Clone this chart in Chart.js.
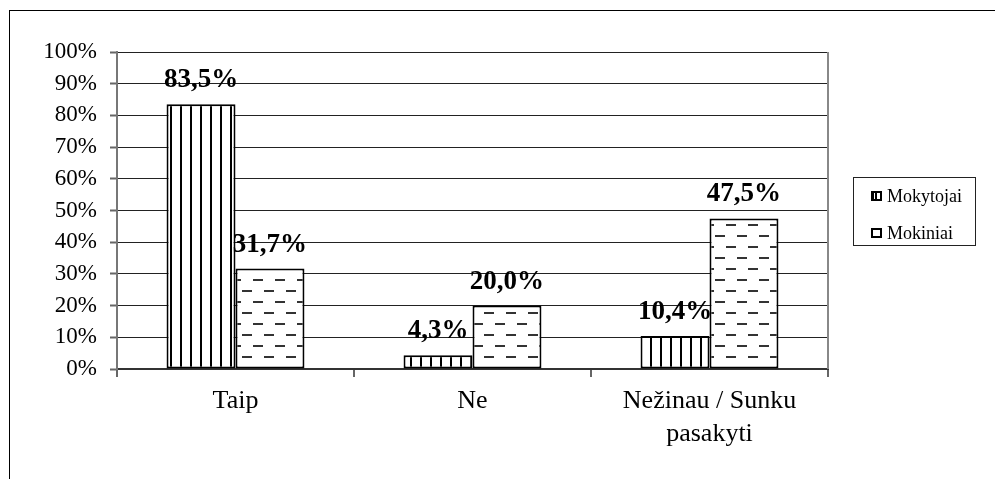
<!DOCTYPE html>
<html>
<head>
<meta charset="utf-8">
<script src="https://cdn.jsdelivr.net/npm/chart.js@4.4.1/dist/chart.umd.min.js"></script>
<style>
  html, body { margin: 0; padding: 0; background: #fff; overflow: hidden; }
  #wrap { position: relative; width: 995px; height: 479px; }
  #frame { position: absolute; left: 9px; top: 10px; width: 1100px; height: 600px; border: 1px solid #000; box-sizing: border-box; pointer-events: none; }
  #legend { position: absolute; left: 853px; top: 177px; width: 123px; height: 69px; border: 1px solid #222; box-sizing: border-box; font-family: "Liberation Serif", "Times New Roman", serif; color: #000; }
  .icon { position: absolute; left: 17px; width: 11px; height: 10px; border: 2px solid #000; box-sizing: border-box; background: #fff; }
  .icon.v { background: linear-gradient(90deg, #000 0 1px, #fff 1px 2px, #000 2px 4px, #fff 4px); }
  .txt { position: absolute; left: 33px; font-size: 18px; line-height: 20px; white-space: nowrap; }
</style>
</head>
<body>
<div id="wrap">
  <canvas id="c" width="995" height="479"></canvas>
  <div id="frame"></div>
  <div id="legend"></div>
</div>
<script>
// Categories and series
const categories = ['Taip', 'Ne', ['Nežinau / Sunku', 'pasakyti']];
const seriesNames = ['Mokytojai', 'Mokiniai'];
const mokytojai = [83.5, 4.3, 10.4];
const mokiniai = [31.7, 20.0, 47.5];
const yTicks = [0, 10, 20, 30, 40, 50, 60, 70, 80, 90, 100];

// Fill patterns: narrow vertical lines and staggered dashes
function verticalPattern() {
  const c = document.createElement('canvas');
  c.width = 10; c.height = 10;
  const g = c.getContext('2d');
  g.fillStyle = '#fff'; g.fillRect(0, 0, 10, 10);
  g.fillStyle = '#000'; g.fillRect(0, 0, 2, 10);
  return g.createPattern(c, 'repeat');
}
function dashPattern() {
  const c = document.createElement('canvas');
  c.width = 22; c.height = 22;
  const g = c.getContext('2d');
  g.fillStyle = '#fff'; g.fillRect(0, 0, 22, 22);
  g.fillStyle = '#333';
  g.fillRect(0, 4, 10, 2);
  g.fillRect(11, 15, 10, 2);
  return g.createPattern(c, 'repeat');
}

const fmt = v => v.toFixed(1).replace('.', ',') + '%';

// Value labels above each bar
const valueLabels = {
  id: 'valueLabels',
  afterDatasetsDraw(chart) {
    const ctx = chart.ctx;
    ctx.save();
    ctx.font = 'bold 27px "Liberation Serif", "Times New Roman", serif';
    ctx.fillStyle = '#000';
    ctx.textAlign = 'center';
    ctx.textBaseline = 'alphabetic';
    chart.data.datasets.forEach((ds, i) => {
      chart.getDatasetMeta(i).data.forEach((el, j) => {
        ctx.fillText(fmt(ds.data[j]), el.x, el.y - 17);
      });
    });
    ctx.restore();
  }
};

// Grey border on the right of the plot area
const plotBorder = {
  id: 'plotBorder',
  beforeDatasetsDraw(chart) {
    const a = chart.chartArea, ctx = chart.ctx;
    ctx.save();
    ctx.strokeStyle = '#888';
    ctx.lineWidth = 2;
    ctx.beginPath();
    ctx.moveTo(a.right, a.top);
    ctx.lineTo(a.right, a.bottom);
    ctx.stroke();
    ctx.restore();
  }
};

const serif = '"Liberation Serif", "Times New Roman", serif';

new Chart(document.getElementById('c'), {
  type: 'bar',
  data: {
    labels: categories,
    datasets: [
      { label: seriesNames[0], data: mokytojai, backgroundColor: verticalPattern(), borderColor: '#000', borderWidth: 2, borderSkipped: false },
      { label: seriesNames[1], data: mokiniai, backgroundColor: dashPattern(), borderColor: '#000', borderWidth: 2, borderSkipped: false }
    ]
  },
  options: {
    responsive: false,
    devicePixelRatio: 1,
    animation: false,
    layout: { padding: { left: 0, right: 167, top: 52, bottom: 0 } },
    datasets: { bar: { categoryPercentage: 0.582, barPercentage: 1.0 } },
    plugins: { legend: { display: false }, tooltip: { enabled: false } },
    scales: {
      x: {
        grid: { display: true, drawOnChartArea: false, drawTicks: true, tickLength: 8, color: '#666', lineWidth: 2, offset: true },
        border: { display: true, color: '#333', width: 2 },
        ticks: { color: '#000', font: { family: serif, size: 26, lineHeight: 1.25 }, padding: 8, maxRotation: 0, autoSkip: false },
        afterFit(s) { s.height = 110; }
      },
      y: {
        min: 0, max: 100,
        afterBuildTicks(s) { s.ticks = yTicks.map(v => ({ value: v })); },
        grid: { color: '#222', lineWidth: 1, tickLength: 7, tickColor: '#666', tickWidth: 2 },
        border: { display: true, color: '#777', width: 2 },
        ticks: { color: '#000', font: { family: serif, size: 23 }, padding: 13, autoSkip: false, callback: v => v + '%' },
        afterFit(s) { s.width = 117; }
      }
    }
  },
  plugins: [plotBorder, valueLabels]
});

// Legend box built from the series names
const legend = document.getElementById('legend');
seriesNames.forEach((name, i) => {
  const top = i === 0 ? 8 : 45;
  const icon = document.createElement('div');
  icon.className = 'icon' + (i === 0 ? ' v' : '');
  icon.style.top = (top + 5) + 'px';
  const txt = document.createElement('div');
  txt.className = 'txt';
  txt.style.top = top + 'px';
  txt.textContent = name;
  legend.appendChild(icon);
  legend.appendChild(txt);
});
</script>
</body>
</html>
